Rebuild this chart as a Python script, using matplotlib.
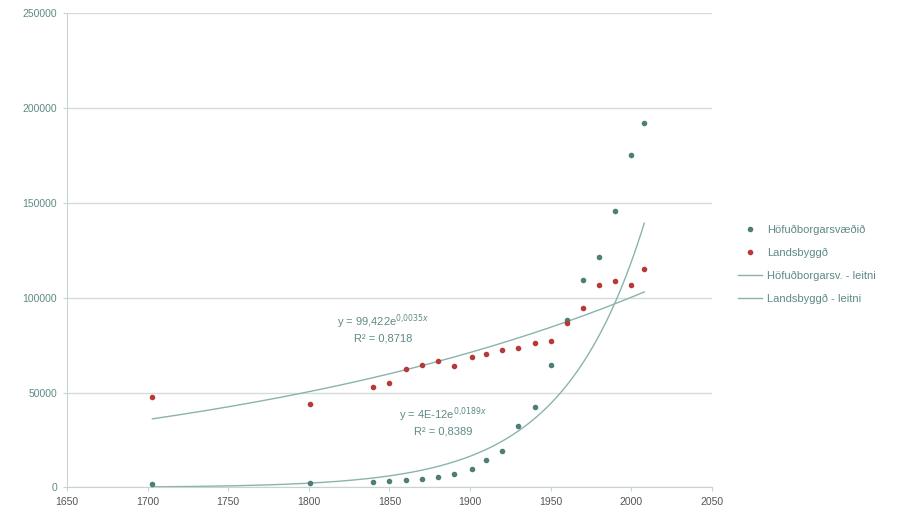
import numpy as np
import matplotlib
matplotlib.use("Agg")
import matplotlib.pyplot as plt

years_h = [1703, 1801, 1840, 1850, 1860, 1870, 1880, 1890, 1901, 1910, 1920, 1930, 1940, 1950, 1960, 1970, 1980, 1990, 2000, 2008]
hofud = [2000, 2500, 3000, 3300, 3800, 4500, 5500, 7000, 9500, 14500, 19500, 32500, 42500, 64500, 88500, 109500, 121500, 146000, 175300, 192300]
years_l = [1703, 1801, 1840, 1850, 1860, 1870, 1880, 1890, 1901, 1910, 1920, 1930, 1940, 1950, 1960, 1970, 1980, 1990, 2000, 2008]
lands = [47500, 44200, 53200, 55100, 62600, 64600, 66900, 63800, 68800, 70400, 72300, 73800, 76000, 77000, 86800, 94500, 106500, 108800, 106800, 115300]

x_ticks = [1650, 1700, 1750, 1800, 1850, 1900, 1950, 2000, 2050]
y_ticks = [0, 50000, 100000, 150000, 200000, 250000]

label_h = "Höfuðborgarsvæðið"
label_l = "Landsbyggð"
label_ht = "Höfuðborgarsv. - leitni"
label_lt = "Landsbyggð - leitni"
eq_l = "y = 99,422e$^{0{,}0035x}$\nR² = 0,8718"
eq_h = "y = 4E-12e$^{0{,}0189x}$\nR² = 0,8389"

plt.rcParams['font.family'] = ['Liberation Sans', 'DejaVu Sans']
text_col = '#5e8a86'

fig = plt.figure(figsize=(9.10, 5.19), dpi=100)
ax = fig.add_axes([0.0736, 0.0607, 0.7088, 0.9137])

def exp_fit(x, y):
    x = np.asarray(x, float); y = np.asarray(y, float)
    b, a = np.polyfit(x, np.log(y), 1)
    xs = np.linspace(x.min(), x.max(), 300)
    return xs, np.exp(a) * np.exp(b * xs)

trend_col = '#8bb3ae'
xs, ys = exp_fit(years_h, hofud)
ax.plot(xs, ys, color=trend_col, lw=1.0, label=label_ht, zorder=2)
xs2, ys2 = exp_fit(years_l, lands)
ax.plot(xs2, ys2, color=trend_col, lw=1.0, label=label_lt, zorder=2)

ax.plot(years_h, hofud, ls='none', marker='o', ms=3, color='#4f7d78', label=label_h, zorder=3)
ax.plot(years_l, lands, ls='none', marker='o', ms=3, color='#b73a3a', label=label_l, zorder=3)

ax.set_xlim(1650, 2050)
ax.set_ylim(0, 250000)
ax.set_xticks(x_ticks)
ax.set_yticks(y_ticks)
ax.set_xticklabels([str(v) for v in x_ticks])
ax.set_yticklabels([str(v) for v in y_ticks])
ax.yaxis.grid(True, color='#d5dcdb', lw=1.0)
ax.set_axisbelow(True)
for s in ['top', 'right']:
    ax.spines[s].set_visible(False)
for s in ['left', 'bottom']:
    ax.spines[s].set_color('#c8d4d2')
ax.tick_params(axis='both', colors='#c8d4d2', length=3, labelsize=7.5, pad=4)
for t in ax.get_xticklabels():
    t.set_color('#555555')
for t in ax.get_yticklabels():
    t.set_color(text_col)

ax.text(1846, 84000, eq_l, ha='center', va='center', fontsize=8, color=text_col, linespacing=1.3)
ax.text(1883, 35000, eq_h, ha='center', va='center', fontsize=8, color=text_col, linespacing=1.3)

h, l = ax.get_legend_handles_labels()
order = [2, 3, 0, 1]
fig.legend([h[i] for i in order], [l[i] for i in order], loc='center left',
           bbox_to_anchor=(0.8, 0.49), frameon=False, fontsize=8, labelcolor=text_col,
           handlelength=2.2, labelspacing=1.15, handletextpad=0.4, markerscale=1.0)

fig.savefig('out.png', dpi=100)
